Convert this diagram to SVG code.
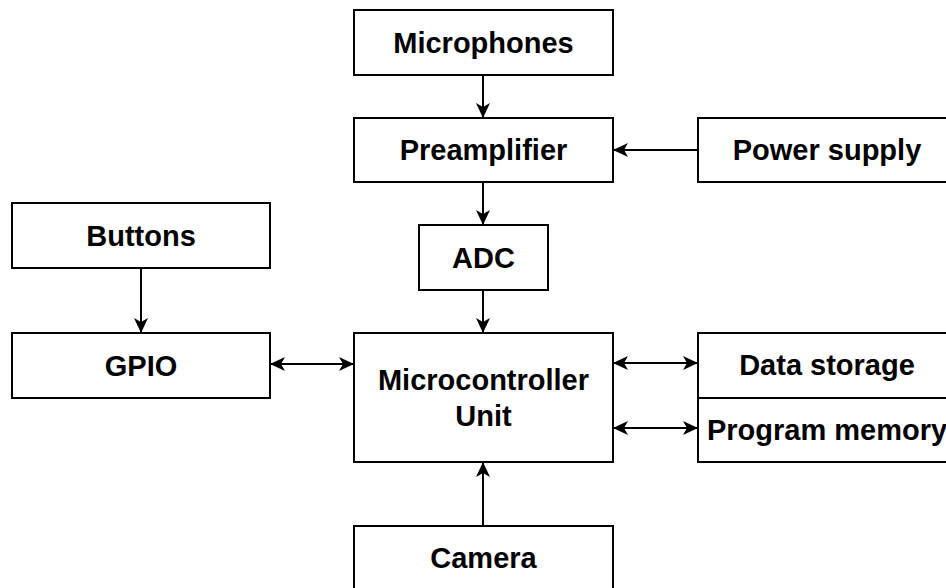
<svg xmlns="http://www.w3.org/2000/svg" width="946" height="588" viewBox="0 0 946 588">
<style>
.box{fill:#fff;stroke:#000;stroke-width:2}
.t{font-family:"Liberation Sans",Arial,sans-serif;font-weight:bold;font-size:29px;fill:#000;text-anchor:middle}
.c{stroke:#000;stroke-width:2;fill:none}
</style>
<defs>
<marker id="ah" viewBox="0 0 15 14" refX="14" refY="7" markerWidth="15" markerHeight="14" markerUnits="userSpaceOnUse" orient="auto-start-reverse">
<path d="M0,0 L15,7 L0,14 L4,7 Z" fill="#000"/>
</marker>
</defs>
<rect width="946" height="588" fill="#fff"/>
<g id="connectors">
<line class="c" x1="483" y1="75" x2="483" y2="117" marker-end="url(#ah)"/>
<line class="c" x1="483" y1="182" x2="483" y2="224" marker-end="url(#ah)"/>
<line class="c" x1="483" y1="290" x2="483" y2="332" marker-end="url(#ah)"/>
<line class="c" x1="698" y1="150" x2="614" y2="150" marker-end="url(#ah)"/>
<line class="c" x1="141" y1="268" x2="141" y2="332" marker-end="url(#ah)"/>
<line class="c" x1="271" y1="364" x2="353" y2="364" marker-start="url(#ah)" marker-end="url(#ah)"/>
<line class="c" x1="614" y1="363" x2="697" y2="363" marker-start="url(#ah)" marker-end="url(#ah)"/>
<line class="c" x1="614" y1="428" x2="697" y2="428" marker-start="url(#ah)" marker-end="url(#ah)"/>
<line class="c" x1="483" y1="526" x2="483" y2="463" marker-end="url(#ah)"/>
</g>
<g id="microphones"><rect class="box" x="354" y="10" width="259" height="65"/><text class="t" x="483.5" y="53">Microphones</text></g>
<g id="preamplifier"><rect class="box" x="354" y="118" width="259" height="64"/><text class="t" x="483.5" y="160">Preamplifier</text></g>
<g id="power-supply"><rect class="box" x="698" y="118" width="259" height="64"/><text class="t" x="827" y="160">Power supply</text></g>
<g id="adc"><rect class="box" x="419" y="225" width="129" height="65"/><text class="t" x="483.5" y="268">ADC</text></g>
<g id="buttons"><rect class="box" x="12" y="203" width="258" height="65"/><text class="t" x="141" y="246">Buttons</text></g>
<g id="gpio"><rect class="box" x="12" y="333" width="258" height="65"/><text class="t" x="141" y="376">GPIO</text></g>
<g id="mcu"><rect class="box" x="354" y="333" width="259" height="129"/><text class="t" x="483.5" y="390">Microcontroller</text><text class="t" x="483.5" y="426">Unit</text></g>
<g id="data-storage"><rect class="box" x="698" y="333" width="259" height="65"/><text class="t" x="827" y="375">Data storage</text></g>
<g id="program-memory"><rect class="box" x="698" y="398" width="259" height="64"/><text class="t" x="827" y="440">Program memory</text></g>
<g id="camera"><rect class="box" x="354" y="526" width="259" height="66"/><text class="t" x="483.5" y="568">Camera</text></g>
</svg>
